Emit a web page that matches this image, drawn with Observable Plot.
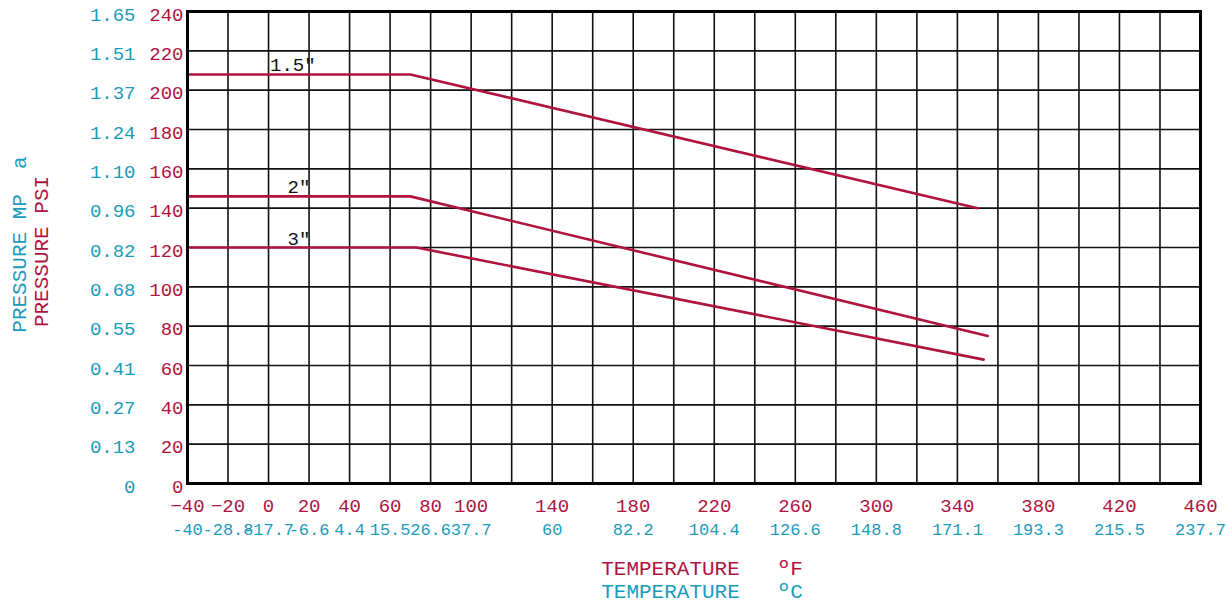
<!DOCTYPE html>
<html><head><meta charset="utf-8">
<script src="https://cdn.jsdelivr.net/npm/d3@7"></script>
<script src="https://cdn.jsdelivr.net/npm/@observablehq/plot@0.6"></script>
<style>
html,body{margin:0;padding:0;background:#fff;}
svg text{white-space:pre;}
</style></head><body><div id="chart"></div>
<script>
// Series: pipe sizes, temperature (°F) breakpoints and pressure (PSI)
const series = ['1.5"', '2"', '3"'];
const tempF = [[-40, 70, 350], [-40, 70, 355], [-40, 73, 353]];
const psi = [[208, 208, 140], [146, 146, 75], [120, 120, 63]];
const labelF = [12, 15, 15];

// Tick labels
const xTicksF = [-40, -20, 0, 20, 40, 60, 80, 100, 140, 180, 220, 260, 300, 340, 380, 420, 460];
const xTicksC = ["-40", "-28.8", "-17.7", "-6.6", "4.4", "15.5", "26.6", "37.7", "60", "82.2", "104.4", "126.6", "148.8", "171.1", "193.3", "215.5", "237.7"];
const gridF = [-40, -20, 0, 20, 40, 60, 80, 100, 120, 140, 160, 180, 200, 220, 240, 260, 280, 300, 320, 340, 360, 380, 400, 420, 440, 460];
const yTicksPsi = [0, 20, 40, 60, 80, 100, 120, 140, 160, 180, 200, 220, 240];
const yTicksMpa = ["0", "0.13", "0.27", "0.41", "0.55", "0.68", "0.82", "0.96", "1.10", "1.24", "1.37", "1.51", "1.65"];

const RED = "#b0133f", CYAN = "#1b9bbb";
const FONT = "Liberation Mono, monospace";

const rows = [];
series.forEach((s, i) => tempF[i].forEach((f, j) => rows.push({series: s, f, psi: psi[i][j]})));
const labels = series.map((s, i) => ({series: s, f: labelF[i], psi: psi[i][0]}));

const chart = Plot.plot({
  width: 1227, height: 606,
  marginLeft: 187, marginRight: 27, marginTop: 11, marginBottom: 123,
  x: {domain: [-40, 460]},
  y: {domain: [0, 240]},
  style: {fontFamily: FONT, fontSize: "19px", background: "#fff", overflow: "visible"},
  marks: [
    Plot.gridX(gridF, {stroke: "#111", strokeOpacity: 1, strokeWidth: 1.6}),
    Plot.gridY(yTicksPsi, {stroke: "#111", strokeOpacity: 1, strokeWidth: 1.6}),
    Plot.axisY(yTicksPsi, {tickSize: 0, tickPadding: 4, color: RED, label: null, dy: 3, fontSize: 19}),
    Plot.axisY(yTicksPsi, {tickSize: 0, tickPadding: 52, color: CYAN, label: null, dy: 3, fontSize: 19,
      tickFormat: d => yTicksMpa[yTicksPsi.indexOf(d)]}),
    Plot.axisX(xTicksF, {tickSize: 0, tickPadding: 15, color: RED, label: null, fontSize: 19}),
    Plot.axisX(xTicksF, {tickSize: 0, tickPadding: 39, color: CYAN, label: null, fontSize: 17,
      tickFormat: d => xTicksC[xTicksF.indexOf(d)]}),
    Plot.line(rows, {x: "f", y: "psi", z: "series", stroke: RED, strokeWidth: 2.6}),
    Plot.text(labels, {x: "f", y: "psi", text: "series", lineAnchor: "bottom", dy: -3, fill: "#111", fontSize: 19}),
    Plot.frame({stroke: "#000", strokeWidth: 3}),
    Plot.text(["PRESSURE MP  a"], {frameAnchor: "left", textAnchor: "middle", rotate: -90, dx: -168, dy: -3, fill: CYAN, fontSize: 21}),
    Plot.text(["PRESSURE PSI"], {frameAnchor: "left", textAnchor: "middle", rotate: -90, dx: -146, dy: 4, fill: RED, fontSize: 21}),
    Plot.text(["TEMPERATURE   ºF"], {frameAnchor: "bottom", dx: 8, dy: 91, fill: RED, fontSize: 21}),
    Plot.text(["TEMPERATURE   ºC"], {frameAnchor: "bottom", dx: 8, dy: 114, fill: CYAN, fontSize: 21})
  ]
});
document.getElementById("chart").append(chart);
</script></body></html>
